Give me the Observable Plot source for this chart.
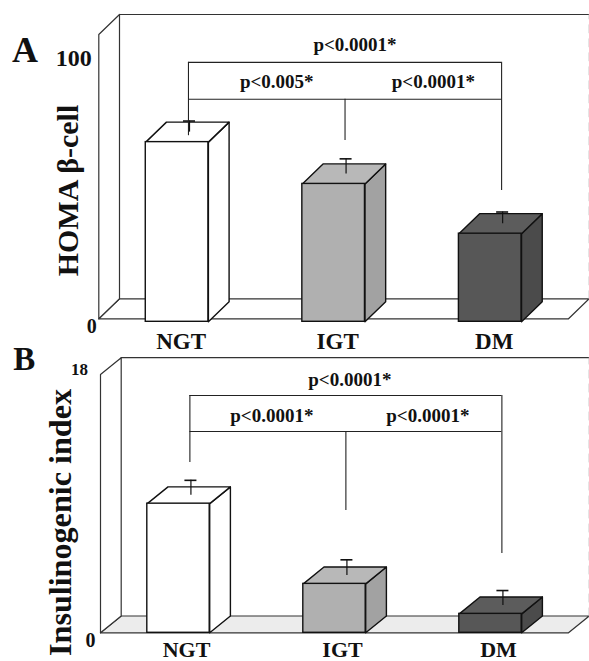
<!DOCTYPE html>
<html><head><meta charset="utf-8">
<script src="https://cdn.jsdelivr.net/npm/d3@7"></script>
<script src="https://cdn.jsdelivr.net/npm/@observablehq/plot@0.6"></script>
<style>
body{margin:0;background:#fff;}
#chart{width:589px;height:661px;overflow:hidden;}
#chart svg{display:block;}
</style></head><body><div id="chart"></div>
<script>
// ---- data ----
const categories = ["NGT", "IGT", "DM"];
const homaValues = [63.2, 48.5, 31.0];
const homaErrors = [3.9, 5.3, 4.1];
const insValues = [9.0, 3.41, 1.32];
const insErrors = [1.04, 1.09, 1.04];
const homaTicks = [0, 100];
const insTicks = [0, 18];
const homaP = ["p<0.0001*", "p<0.005*", "p<0.0001*"];
const insP = ["p<0.0001*", "p<0.0001*", "p<0.0001*"];
// bracket levels in value units: [outer line, inner line, NGT stem end, IGT stem end, DM stem end]
const homaBracket = [90.2, 77.2, 64.4, 62.7, 45.1];
const insBracket = [16.54, 14.03, 11.87, 8.52, 5.53];
// p-label levels in value units: [outer, left, right]
const homaPLevels = [96.4, 83.5, 83.5];
const insPLevels = [17.6, 15.1, 15.1];
const frontColors = ["#ffffff", "#b0b0b0", "#575757"];
const sideColors = ["#ffffff", "#a2a2a2", "#4b4b4b"];
const topColors = ["#ffffff", "#b8b8b8", "#5c5c5c"];

const FONT = "'Liberation Serif', 'Times New Roman', Times, serif";
const pts = (arr) => arr.map(([x, y]) => ({x, y}));

function panel(cfg) {
  const {values, errors, ticks, pLabels, bracket, pLevels, yTitle, letter} = cfg;
  const max = ticks[1];
  const unitX = (cfg.xRange[1] - cfg.xRange[0]) / 3;
  const unitY = (cfg.yRange[0] - cfg.yRange[1]) / max;
  const ddx = cfg.depth[0] / unitX, ddy = cfg.depth[1] / unitY;
  const x0 = -0.5, x1 = 2.5;
  const xEdge = x0 + (cfg.width - cfg.xRange[0]) / unitX;
  const bw = 0.4;
  const txt = {fontWeight: "bold", fontFamily: FONT, fill: "#111", textAnchor: "middle", lineAnchor: "middle"};
  const wall = {x: "x", y: "y", stroke: "#333", strokeWidth: 1.2};
  const barStroke = {x: "x", y: "y", stroke: "#111", strokeWidth: 1.4, curve: "linear-closed", dy: cfg.barShift};
  const marks = [];
  // floor and left wall
  marks.push(Plot.line(pts([[x0, 0], [x1, 0], [x1 + ddx, ddy], [x0 + ddx, ddy]]), {...wall, fill: cfg.floorFill, curve: "linear-closed"}));
  marks.push(Plot.line(pts([[x0, 0], [x0, max], [x0 + ddx, max + ddy], [x0 + ddx, ddy]]), {...wall, fill: "white", curve: "linear-closed"}));
  // back wall top line and right edge
  marks.push(Plot.line(pts([[x0 + ddx, max + ddy], [xEdge, max + ddy]]), wall));
  marks.push(Plot.line(pts([[x1 + ddx, ddy], [x1 + ddx, max + ddy]]), {x: "x", y: "y", stroke: "#aaa", strokeWidth: 1, strokeDasharray: "8,6"}));
  // 3D bars
  categories.forEach((c, i) => {
    const v = values[i], l = i - bw / 2, r = i + bw / 2;
    marks.push(Plot.line(pts([[r, 0], [r, v], [r + ddx, v + ddy], [r + ddx, ddy]]), {...barStroke, fill: sideColors[i]}));
    marks.push(Plot.line(pts([[l, v], [r, v], [r + ddx, v + ddy], [l + ddx, v + ddy]]), {...barStroke, fill: topColors[i]}));
    marks.push(Plot.rect([{x1: l, x2: r, y1: 0, y2: v}], {x1: "x1", x2: "x2", y1: "y1", y2: "y2", fill: frontColors[i], stroke: "#111", strokeWidth: 1.4, dy: cfg.barShift}));
  });
  // error bars (upper only)
  const capHalf = 6 / unitX;
  const err = categories.map((c, i) => {
    const ex = i + 0.6 * ddx, base = values[i] + 0.5 * ddy;
    return {x: ex, base, top: base + errors[i], cl: ex - capHalf, cr: ex + capHalf};
  });
  marks.push(Plot.ruleX(err, {x: "x", y1: "base", y2: "top", stroke: "#111", strokeWidth: 1.2, dy: cfg.barShift}));
  marks.push(Plot.ruleY(err, {y: "top", x1: "cl", x2: "cr", stroke: "#111", strokeWidth: 1.6, dy: cfg.barShift}));
  // significance brackets
  const sx = [0, 1, 2].map(i => i + 0.55 * ddx);
  const [L0, L1, e0, e1, e2] = bracket;
  marks.push(Plot.ruleY([L0, L1], {y: d => d, x1: () => sx[0], x2: () => sx[2], stroke: "#222", strokeWidth: 1.1}));
  marks.push(Plot.ruleX([{x: sx[0], y1: e0, y2: L0}, {x: sx[1], y1: e1, y2: L1}, {x: sx[2], y1: e2, y2: L0}],
    {x: "x", y1: "y1", y2: "y2", stroke: "#222", strokeWidth: 1.1}));
  const pData = [
    {x: (sx[0] + sx[2]) / 2, y: pLevels[0], t: pLabels[0]},
    {x: (sx[0] + sx[1]) / 2, y: pLevels[1], t: pLabels[1]},
    {x: (sx[1] + sx[2]) / 2, y: pLevels[2], t: pLabels[2]}
  ];
  marks.push(Plot.text(pData, {x: "x", y: "y", text: "t", dx: cfg.pDx, fontSize: 19, ...txt}));
  // category labels
  marks.push(Plot.text(categories, {x: (d, i) => i, y: () => 0, text: d => d, dx: cfg.catDx, dy: cfg.catDy, fontSize: cfg.catSize, ...txt}));
  // value tick labels
  marks.push(Plot.text([ticks[1]], {x: () => x0, y: d => d, text: d => String(d), dx: cfg.topTick[0], dy: cfg.topTick[1], fontSize: cfg.topTick[2], ...txt}));
  marks.push(Plot.text([ticks[0]], {x: () => x0, y: d => d, text: d => String(d), dx: cfg.zeroTick[0], dy: cfg.zeroTick[1], fontSize: cfg.zeroTick[2], ...txt}));
  // axis title and panel letter
  marks.push(Plot.text([yTitle], {frameAnchor: "top-left", dx: cfg.titlePos[0], dy: cfg.titlePos[1], fontSize: cfg.titlePos[2], rotate: -90, ...txt}));
  marks.push(Plot.text([letter], {frameAnchor: "top-left", dx: cfg.letterPos[0], dy: cfg.letterPos[1], fontSize: cfg.letterPos[2], ...txt}));

  const svg = Plot.plot({
    width: cfg.width, height: cfg.height, margin: 0,
    x: {type: "linear", domain: [x0, x1], range: cfg.xRange, axis: null},
    y: {type: "linear", domain: [0, max], range: cfg.yRange, axis: null},
    style: {background: "transparent", overflow: "visible"},
    marks
  });
  if (cfg.titleLength) {
    svg.querySelectorAll("text").forEach(t => {
      if (t.textContent === yTitle) {
        t.setAttribute("textLength", cfg.titleLength);
        t.setAttribute("lengthAdjust", "spacingAndGlyphs");
      }
    });
  }
  return svg;
}

const svgA = panel({
  values: homaValues, errors: homaErrors, ticks: homaTicks, pLabels: homaP, bracket: homaBracket, pLevels: homaPLevels,
  yTitle: "HOMA β-cell", letter: "A",
  width: 589, height: 349, xRange: [98.3, 568], yRange: [318.3, 34], depth: [20.7, 20], barShift: 3,
  floorFill: "#ffffff", pDx: 10, catDx: 4, catDy: 23, catSize: 23,
  topTick: [-25, 23.5, 24], zeroTick: [-7, 8, 20],
  titlePos: [68, 190, 30], letterPos: [24.5, 50, 36]
});
const svgB = panel({
  values: insValues, errors: insErrors, ticks: insTicks, pLabels: insP, bracket: insBracket, pLevels: insPLevels,
  yTitle: "Insulinogenic index", letter: "B",
  width: 589, height: 312, xRange: [100, 568], yRange: [283.3, 25], depth: [20.7, 16.8], barShift: 0,
  floorFill: "#ececec", pDx: 4, catDx: 8, catDy: 17, catSize: 22,
  topTick: [-21, -5, 17], zeroTick: [-10, 8, 20],
  titlePos: [61, 173, 31], titleLength: 267, letterPos: [23.8, 10, 33]
});
const root = document.getElementById("chart");
root.appendChild(svgA);
root.appendChild(svgB);
</script>
</body></html>
